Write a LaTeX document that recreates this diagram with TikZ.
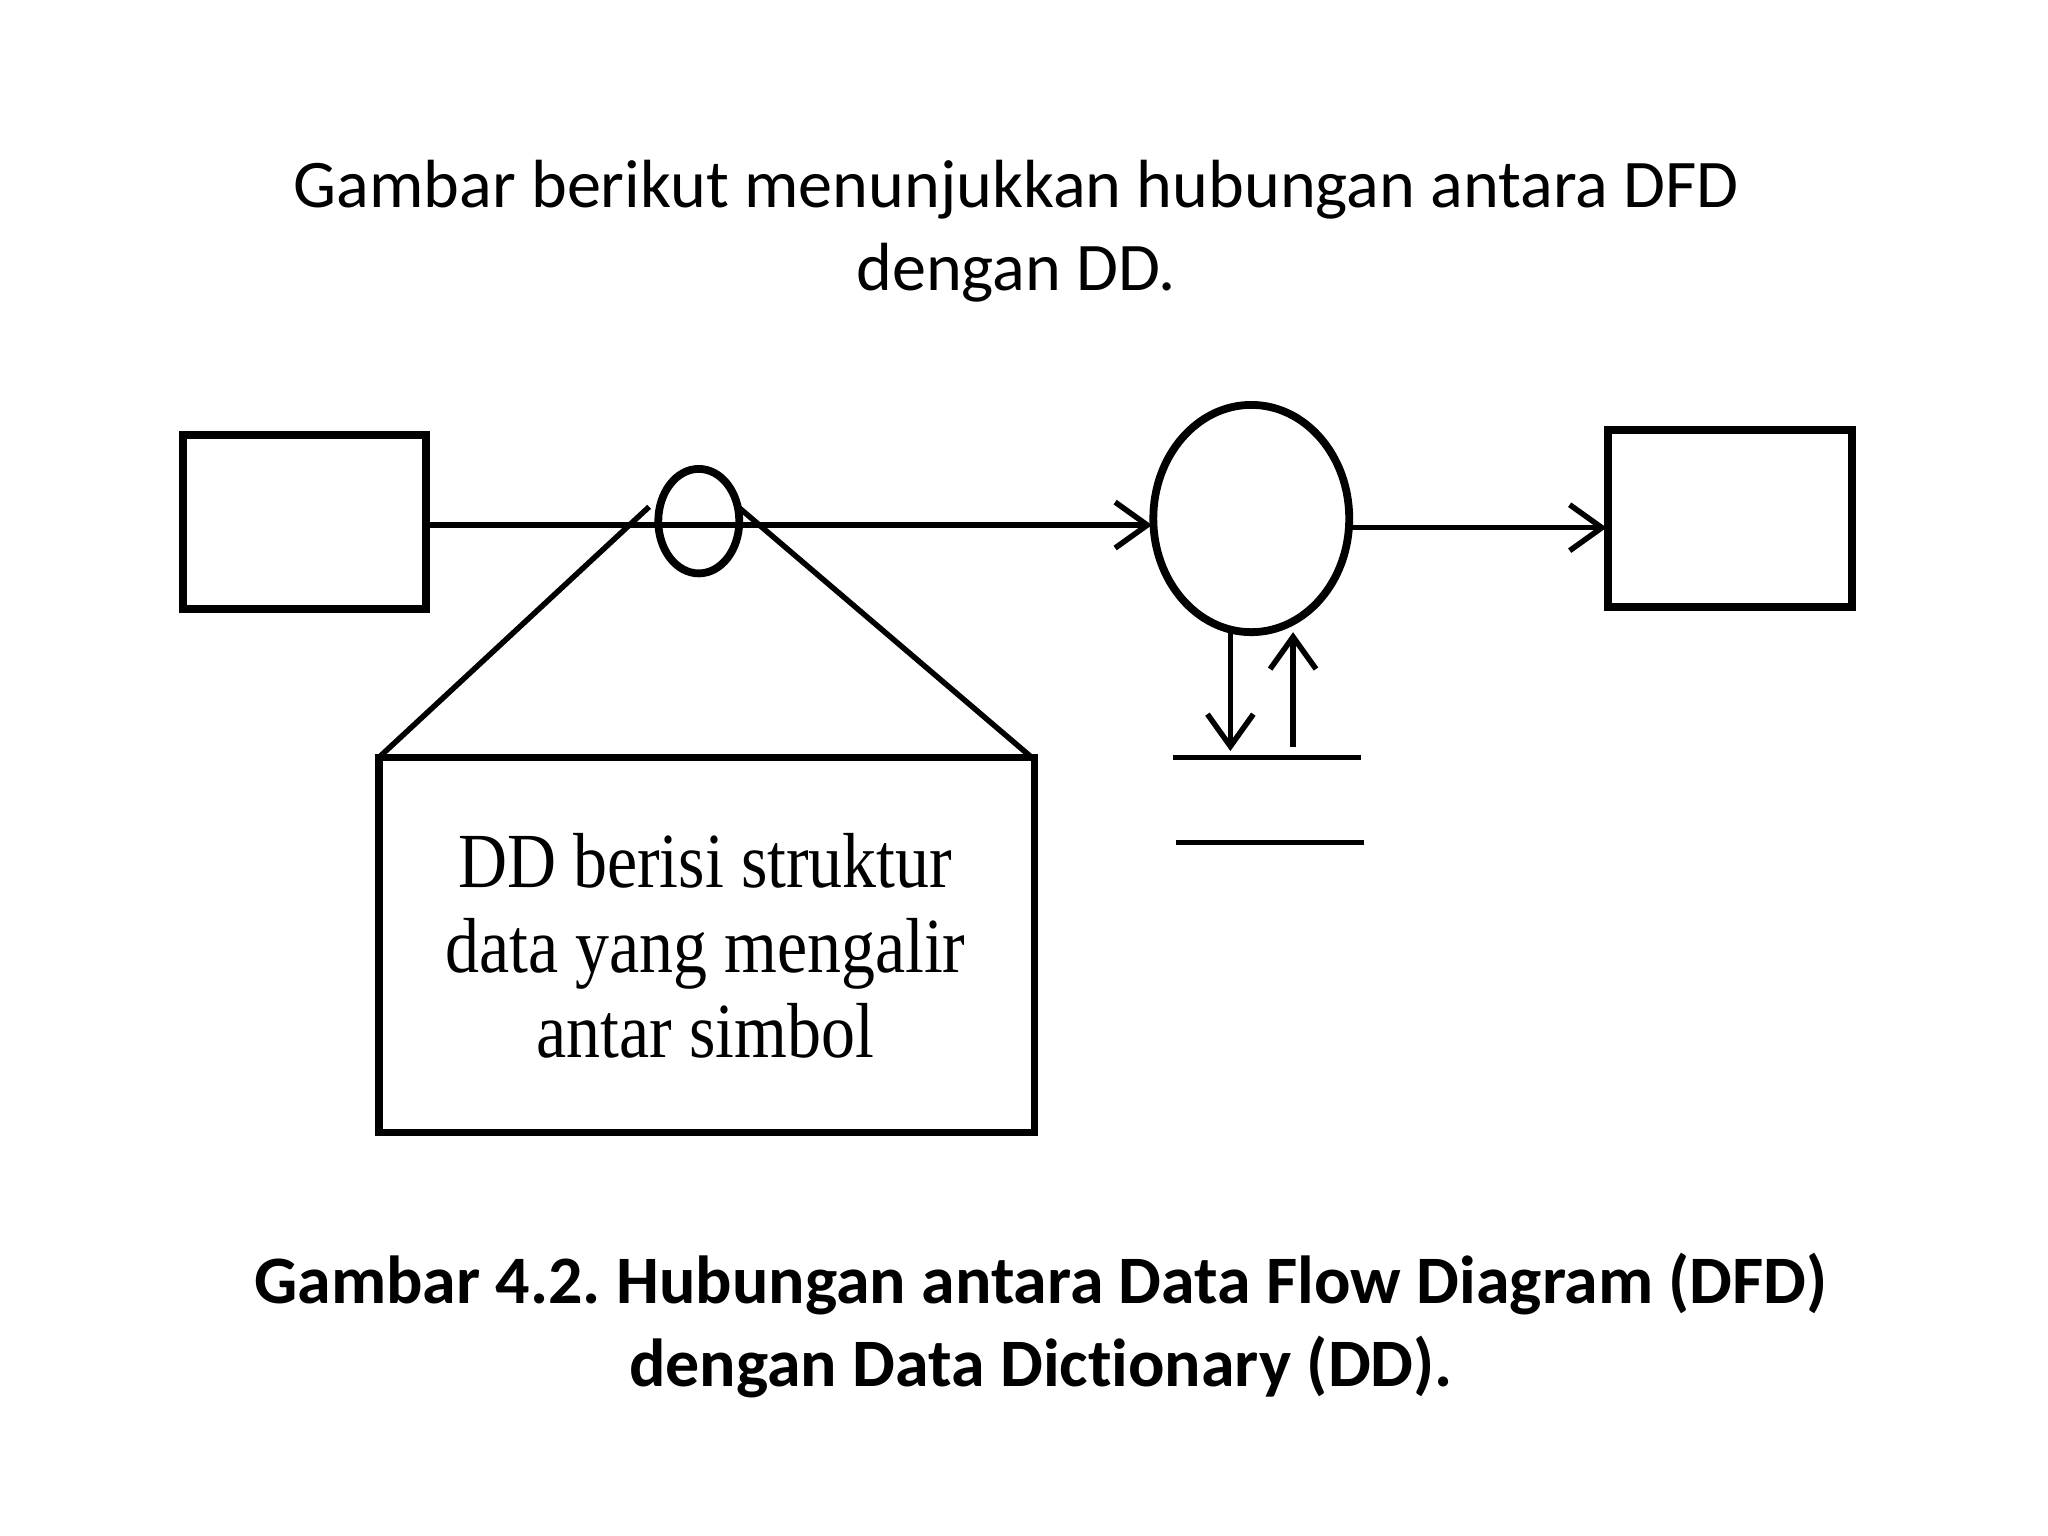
\documentclass[tikz,border=0pt]{standalone}
\usepackage{fontspec}
\setmainfont[Ligatures=NoCommon]{Carlito}
\newfontfamily\tnr{Liberation Serif}
\usetikzlibrary{arrows.meta}
\begin{document}
\begin{tikzpicture}[x=0.02cm,y=-0.02cm,
  thick box/.style={draw,line width=3.4pt},
  flow/.style={line width=2.4pt,-{Straight Barb[length=14pt,width=20pt,line width=2.4pt]}},
  plain/.style={line width=2.4pt}]
\useasboundingbox (0,0) rectangle (1568,1176);
\node[font=\fontsize{29.7}{36}\selectfont,align=center] (title) at (778,177) {Gambar berikut menunjukkan hubungan antara DFD\\dengan DD.};
\draw[thick box] (140,333) rectangle (326,466);
\coordinate (lb) at (326,402);
\coordinate (pin) at (882,402);
\draw[flow] (lb) -- (pin);
\draw[line width=3.4pt] (535,399) ellipse [x radius=31,y radius=40];
\draw[plain] (497,388) -- (290,580);
\draw[plain] (565,388) -- (790,580);
\draw[thick box] (290,580) rectangle (792,867);
\node[font=\tnr\fontsize{34}{37}\selectfont,align=center,xscale=0.87] (dd) at (540,724) {DD berisi struktur\\data yang mengalir\\antar simbol};
\draw[line width=3.4pt] (958,397) ellipse [x radius=75,y radius=87];
\coordinate (pout) at (1033,404);
\coordinate (rb) at (1230,404);
\draw[flow] (pout) -- (rb);
\draw[thick box] (1231,329) rectangle (1418,465);
\coordinate (d1) at (942,484); \coordinate (d2) at (942,575);
\coordinate (u1) at (990,572); \coordinate (u2) at (990,484);
\draw[flow] (d1) -- (d2);
\draw[flow] (u1) -- (u2);
\draw[plain] (898,580) -- (1042,580);
\draw[plain] (900,645) -- (1044,645);
\node[font=\bfseries\fontsize{29.6}{36}\selectfont,align=center] (cap) at (797,1015) {Gambar 4.2.\ Hubungan antara Data Flow Diagram (DFD)\\dengan Data Dictionary (DD).};
\end{tikzpicture}
\end{document}
